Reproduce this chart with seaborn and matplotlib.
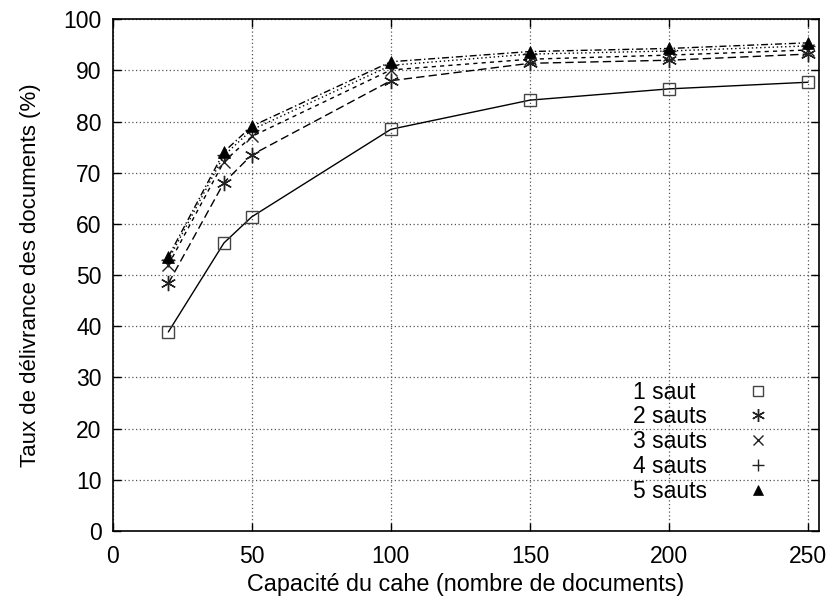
import matplotlib
matplotlib.use("Agg")
import matplotlib.pyplot as plt
import seaborn as sns
import pandas as pd
from matplotlib.lines import Line2D

capacite = [20, 40, 50, 100, 150, 200, 250]
saut1 = [38.9, 56.3, 61.4, 78.5, 84.2, 86.4, 87.7]
saut2 = [48.4, 68.1, 73.5, 88.0, 91.4, 92.0, 93.2]
saut3 = [52.0, 72.2, 77.1, 90.1, 92.2, 93.0, 94.0]
saut4 = [53.0, 73.4, 78.4, 91.0, 93.2, 93.8, 94.8]
saut5 = [53.6, 74.1, 79.1, 91.7, 93.7, 94.3, 95.4]
labels = ["1 saut", "2 sauts", "3 sauts", "4 sauts", "5 sauts"]
xticks = [0, 50, 100, 150, 200, 250]
yticks = [0, 10, 20, 30, 40, 50, 60, 70, 80, 90, 100]

sns.set_theme(style="white")
plt.rcParams['font.family'] = ['Liberation Sans', 'DejaVu Sans']
plt.rcParams['text.color'] = 'black'

fig = plt.figure(figsize=(8.35, 5.99), dpi=100)
ax = fig.add_axes([0.135, 0.1135, 0.846, 0.8543])

series = [saut1, saut2, saut3, saut4, saut5]
styles = [
    dict(linestyle='-', marker='s', ms=8, mfc='none', mec='#444444', mew=1.0),
    dict(linestyle=(0, (6, 3)), marker=(6, 2, 0), ms=11, mec='#222222', mew=1.0),
    dict(linestyle=(0, (3, 3)), marker='x', ms=9, mec='#222222', mew=1.0),
    dict(linestyle=(0, (1, 2)), marker='+', ms=10, mec='#222222', mew=1.0),
    dict(linestyle=(0, (5, 2, 1, 2)), marker='^', ms=8, mfc='black', mec='black', mew=0.5),
]
for vals, lab, st in zip(series, labels, styles):
    df = pd.DataFrame({"x": capacite, "y": vals})
    sns.lineplot(data=df, x="x", y="y", ax=ax, color='black', lw=1.0,
                 legend=False, **st)

ax.set_xlim(0, 254)
ax.set_ylim(0, 100)
ax.set_xticks(xticks)
ax.set_yticks(yticks)
ax.tick_params(direction='in', top=True, right=True, length=6, width=1,
               labelsize=16.5, colors='black', pad=8, bottom=True, left=True)
ax.tick_params(axis='x', pad=10)
ax.grid(True, linestyle=(0, (1, 2)), color='#555555', linewidth=0.9)
for s in ax.spines.values():
    s.set_color('black')
    s.set_linewidth(1.2)
ax.set_xlabel("Capacité du cahe (nombre de documents)", fontsize=16.8, color='black', labelpad=4)
ax.set_ylabel("Taux de délivrance des documents (%)", fontsize=16, color='black', labelpad=16)

handles = []
for lab, st in zip(labels, styles):
    kw = dict(st)
    kw.pop('linestyle')
    kw['ms'] = kw['ms'] * 0.85
    handles.append(Line2D([], [], color='black', linestyle='none', **kw))
leg = ax.legend(handles, labels, loc='upper left', bbox_to_anchor=(0.737, 0.294),
                frameon=False, markerfirst=False, fontsize=16.5, handlelength=1.0,
                handletextpad=1.7, labelspacing=0.08, borderpad=0, borderaxespad=0,
                labelcolor='black')

# left-align legend texts while keeping marker column aligned
fig.canvas.draw()
r = fig.canvas.get_renderer()
texts = leg.get_texts()
widths = [t.get_window_extent(r).width for t in texts]
mw = max(widths)
col = leg._legend_handle_box.get_children()[0]
col.align = 'left'
for row, w in zip(col.get_children(), widths):
    row.sep += (mw - w) * 72.0 / fig.dpi

fig.savefig("out.png", dpi=100)
